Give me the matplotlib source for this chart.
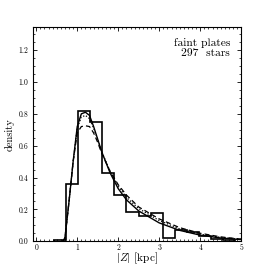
import numpy as np
import matplotlib
matplotlib.use("Agg")
import matplotlib.pyplot as plt
from matplotlib.ticker import MultipleLocator

plt.rcParams['font.family'] = ['cmr10', 'DejaVu Serif']
plt.rcParams['mathtext.fontset'] = 'cm'
plt.rcParams['axes.formatter.use_mathtext'] = True

bin_edges = [0.43, 0.725, 1.02, 1.315, 1.61, 1.905, 2.2, 2.495, 2.79, 3.085,
             3.38, 3.675, 3.97, 4.265, 4.56, 4.855]
bin_density = [0.01, 0.36, 0.82, 0.75, 0.43, 0.29, 0.185, 0.16, 0.175, 0.02,
               0.07, 0.06, 0.03, 0.015, 0.005]

curve_z = [0.65, 0.7, 0.8, 0.9, 1.0, 1.1, 1.2, 1.3, 1.4, 1.5, 1.6, 1.8, 2.0,
           2.2, 2.5, 3.0, 3.5, 4.0, 4.5, 5.0]
solid_y = [0.0, 0.02, 0.25, 0.5, 0.72, 0.80, 0.81, 0.79, 0.72, 0.64, 0.56,
           0.43, 0.33, 0.26, 0.19, 0.115, 0.068, 0.038, 0.02, 0.01]
dashed_y = [0.0, 0.02, 0.25, 0.5, 0.68, 0.72, 0.725, 0.72, 0.68, 0.62, 0.55,
            0.44, 0.355, 0.29, 0.215, 0.14, 0.085, 0.05, 0.027, 0.013]
dotted_y = [0.0, 0.02, 0.25, 0.5, 0.71, 0.78, 0.79, 0.77, 0.71, 0.64, 0.56,
            0.44, 0.345, 0.275, 0.205, 0.13, 0.077, 0.044, 0.024, 0.012]

fig = plt.figure(figsize=(2.68, 2.68), dpi=100)
ax = fig.add_axes([0.123, 0.1, 0.777, 0.799])

ax.stairs(bin_density, bin_edges, color='black', lw=1.2)
ax.plot(curve_z, solid_y, color='black', lw=1.0)
ax.plot(curve_z, dashed_y, color='black', lw=0.9, ls=(0, (4, 2.5)))
ax.plot(curve_z, dotted_y, color='black', lw=0.9, ls=(0, (1, 1.5)))

ax.set_xlim(-0.08, 5)
ax.set_ylim(0, 1.345)
ax.xaxis.set_major_locator(MultipleLocator(1))
ax.xaxis.set_minor_locator(MultipleLocator(0.1))
ax.yaxis.set_major_locator(MultipleLocator(0.2))
ax.yaxis.set_minor_locator(MultipleLocator(0.05))
ax.tick_params(which='both', direction='in', top=True, right=True, labelsize=5.5)
ax.tick_params(axis='x', pad=2)
ax.tick_params(which='major', length=3, width=0.6)
ax.tick_params(which='minor', length=1.5, width=0.5)
ax.xaxis.set_major_formatter(matplotlib.ticker.FuncFormatter(lambda v, p: f"{v:.0f}"))
ax.yaxis.set_major_formatter(matplotlib.ticker.FuncFormatter(lambda v, p: f"{v:.1f}"))
for s in ax.spines.values():
    s.set_linewidth(0.8)

ax.set_xlabel(r'$|Z|$ [kpc]', fontsize=8.2)
ax.xaxis.set_label_coords(0.5, -0.046)
ax.set_ylabel('density', fontsize=7.5, labelpad=3)

ax.text(0.947, 0.947, 'faint plates\n297  stars', transform=ax.transAxes,
        ha='right', va='top', fontsize=8.3, linespacing=1.05)

fig.savefig('out.png', dpi=100)
